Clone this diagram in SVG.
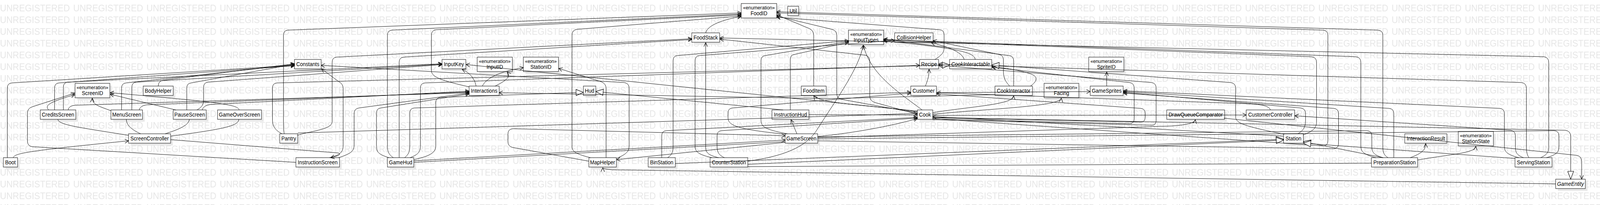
<svg xmlns="http://www.w3.org/2000/svg" width="4369" height="524" viewBox="0 0 4369 524">
<style>
.wm{font-family:"Liberation Sans",Arial,sans-serif;font-size:24px;fill:#e6e6e6}
.sh{fill:#e8e8e8}
.bx{fill:#fff;stroke:#3a3a3a;stroke-width:1.3}
.t{font-family:"Liberation Sans",Arial,sans-serif;font-size:14px;fill:#000;text-anchor:middle}
.s{font-family:"Liberation Sans",Arial,sans-serif;font-size:13px;fill:#000;text-anchor:middle}
.i{font-style:italic}
.e{fill:none;stroke:#000;stroke-width:1}
.a{marker-end:url(#arr)}
.g{marker-end:url(#tri)}
</style>
<defs>
<pattern id="wmp" patternUnits="userSpaceOnUse" x="0" y="0" width="200" height="30"><text class="wm" x="0" y="29">UNREGISTERED</text></pattern>
<marker id="arr" viewBox="0 0 12 12" refX="11" refY="6" markerWidth="12" markerHeight="12" orient="auto" markerUnits="userSpaceOnUse"><path d="M1,1 L11,6 L1,11" fill="none" stroke="#000" stroke-width="1.2"/></marker>
<marker id="tri" viewBox="0 0 22 18" refX="21" refY="9" markerWidth="22" markerHeight="18" orient="auto" markerUnits="userSpaceOnUse"><path d="M1,1 L21,9 L1,17 Z" fill="#fff" stroke="#000" stroke-width="1.2"/></marker>
</defs>
<rect width="4369" height="524" fill="#fff"/>
<g id="diagram" transform="matrix(0.9375 0 0 1 0 0)">
<rect width="4369" height="524" fill="url(#wmp)"/>
<g id="nodes">
<g id="Boot"><rect class="sh" x="15" y="409" width="39" height="24"/><rect class="bx" x="9" y="403" width="39" height="24"/><text class="t" x="28.5" y="420">Boot</text></g>
<g id="ScreenID"><rect class="sh" x="211" y="219" width="95" height="37"/><rect class="bx" x="205" y="213" width="95" height="37"/><text class="s" x="252.5" y="228.5">«enumeration»</text><text class="t" x="252.5" y="243">ScreenID</text></g>
<g id="BodyHelper"><rect class="sh" x="397" y="226" width="82" height="24"/><rect class="bx" x="391" y="220" width="82" height="24"/><text class="t" x="432" y="237">BodyHelper</text></g>
<g id="CreditsScreen"><rect class="sh" x="116" y="287" width="97" height="24"/><rect class="bx" x="110" y="281" width="97" height="24"/><text class="t" x="158.5" y="298">CreditsScreen</text></g>
<g id="MenuScreen"><rect class="sh" x="309" y="287" width="86" height="24"/><rect class="bx" x="303" y="281" width="86" height="24"/><text class="t" x="346" y="298">MenuScreen</text></g>
<g id="PauseScreen"><rect class="sh" x="479" y="287" width="90" height="24"/><rect class="bx" x="473" y="281" width="90" height="24"/><text class="t" x="518" y="298">PauseScreen</text></g>
<g id="GameOverScreen"><rect class="sh" x="600" y="287" width="120" height="24"/><rect class="bx" x="594" y="281" width="120" height="24"/><text class="t" x="654" y="298">GameOverScreen</text></g>
<g id="ScreenController"><rect class="sh" x="357" y="348" width="115" height="24"/><rect class="bx" x="351" y="342" width="115" height="24"/><text class="t" x="408.5" y="359">ScreenController</text></g>
<g id="Constants"><rect class="sh" x="810" y="158" width="73" height="24"/><rect class="bx" x="804" y="152" width="73" height="24"/><text class="t" x="840.5" y="169">Constants</text></g>
<g id="Pantry"><rect class="sh" x="770" y="348" width="49" height="24"/><rect class="bx" x="764" y="342" width="49" height="24"/><text class="t" x="788.5" y="359">Pantry</text></g>
<g id="InstructionScreen"><rect class="sh" x="814" y="409" width="119" height="24"/><rect class="bx" x="808" y="403" width="119" height="24"/><text class="t" x="867.5" y="420">InstructionScreen</text></g>
<g id="GameHud"><rect class="sh" x="1064" y="409" width="72" height="24"/><rect class="bx" x="1058" y="403" width="72" height="24"/><text class="t" x="1094" y="420">GameHud</text></g>
<g id="InputKey"><rect class="sh" x="1213" y="158" width="65" height="24"/><rect class="bx" x="1207" y="152" width="65" height="24"/><text class="t" x="1239.5" y="169">InputKey</text></g>
<g id="InputID"><rect class="sh" x="1309" y="152" width="96" height="37"/><rect class="bx" x="1303" y="146" width="96" height="37"/><text class="s" x="1351" y="161.5">«enumeration»</text><text class="t" x="1351" y="176">InputID</text></g>
<g id="StationID"><rect class="sh" x="1435" y="152" width="96" height="37"/><rect class="bx" x="1429" y="146" width="96" height="37"/><text class="s" x="1477" y="161.5">«enumeration»</text><text class="t" x="1477" y="176">StationID</text></g>
<g id="Interactions"><rect class="sh" x="1287" y="226" width="82" height="24"/><rect class="bx" x="1281" y="220" width="82" height="24"/><text class="t" x="1322" y="237">Interactions</text></g>
<g id="Hud"><rect class="sh" x="1599" y="226" width="34" height="24"/><rect class="bx" x="1593" y="220" width="34" height="24"/><text class="t" x="1610" y="237">Hud</text></g>
<g id="MapHelper"><rect class="sh" x="1614" y="409" width="75" height="24"/><rect class="bx" x="1608" y="403" width="75" height="24"/><text class="t" x="1645.5" y="420">MapHelper</text></g>
<g id="BinStation"><rect class="sh" x="1776" y="409" width="74" height="24"/><rect class="bx" x="1770" y="403" width="74" height="24"/><text class="t" x="1807" y="420">BinStation</text></g>
<g id="CounterStation"><rect class="sh" x="1945" y="409" width="103" height="24"/><rect class="bx" x="1939" y="403" width="103" height="24"/><text class="t" x="1990.5" y="420">CounterStation</text></g>
<g id="FoodStack"><rect class="sh" x="1895" y="90" width="76" height="24"/><rect class="bx" x="1889" y="84" width="76" height="24"/><text class="t" x="1927" y="101">FoodStack</text></g>
<g id="FoodID"><rect class="sh" x="2030" y="15" width="97" height="37"/><rect class="bx" x="2024" y="9" width="97" height="37"/><text class="s" x="2072.5" y="24.5">«enumeration»</text><text class="t" x="2072.5" y="39">FoodID</text></g>
<g id="Util"><rect class="sh" x="2157" y="22" width="30" height="24"/><rect class="bx" x="2151" y="16" width="30" height="24"/><text class="t" x="2166" y="33">Util</text></g>
<g id="InstructionHud"><rect class="sh" x="2114" y="287" width="101" height="24"/><rect class="bx" x="2108" y="281" width="101" height="24"/><text class="t" x="2158.5" y="298">InstructionHud</text></g>
<g id="GameScreen"><rect class="sh" x="2150" y="348" width="89" height="24"/><rect class="bx" x="2144" y="342" width="89" height="24"/><text class="t" x="2188.5" y="359">GameScreen</text></g>
<g id="FoodItem"><rect class="sh" x="2194" y="226" width="68" height="24"/><rect class="bx" x="2188" y="220" width="68" height="24"/><text class="t" x="2222" y="237">FoodItem</text></g>
<g id="InputTypes"><rect class="sh" x="2323" y="83" width="96" height="37"/><rect class="bx" x="2317" y="77" width="96" height="37"/><text class="s" x="2365" y="92.5">«enumeration»</text><text class="t" x="2365" y="107">InputTypes</text></g>
<g id="CollisionHelper"><rect class="sh" x="2449" y="90" width="105" height="24"/><rect class="bx" x="2443" y="84" width="105" height="24"/><text class="t" x="2495.5" y="101">CollisionHelper</text></g>
<g id="Recipe"><rect class="sh" x="2517" y="158" width="52" height="24"/><rect class="bx" x="2511" y="152" width="52" height="24"/><text class="t" x="2537" y="169">Recipe</text></g>
<g id="CookInteractable"><rect class="sh" x="2599" y="158" width="115" height="24"/><rect class="bx" x="2593" y="152" width="115" height="24"/><text class="t i" x="2650.5" y="169">CookInteractable</text></g>
<g id="Customer"><rect class="sh" x="2493" y="226" width="70" height="24"/><rect class="bx" x="2487" y="220" width="70" height="24"/><text class="t" x="2522" y="237">Customer</text></g>
<g id="Cook"><rect class="sh" x="2511" y="287" width="42" height="24"/><rect class="bx" x="2505" y="281" width="42" height="24"/><text class="t" x="2526" y="298">Cook</text></g>
<g id="CookInteractor"><rect class="sh" x="2723" y="226" width="102" height="24"/><rect class="bx" x="2717" y="220" width="102" height="24"/><text class="t" x="2768" y="237">CookInteractor</text></g>
<g id="Facing"><rect class="sh" x="2857" y="219" width="95" height="37"/><rect class="bx" x="2851" y="213" width="95" height="37"/><text class="s" x="2898.5" y="228.5">«enumeration»</text><text class="t" x="2898.5" y="243">Facing</text></g>
<g id="SpriteID"><rect class="sh" x="2979" y="152" width="96" height="37"/><rect class="bx" x="2973" y="146" width="96" height="37"/><text class="s" x="3021" y="161.5">«enumeration»</text><text class="t" x="3021" y="176">SpriteID</text></g>
<g id="GameSprites"><rect class="sh" x="2983" y="226" width="90" height="24"/><rect class="bx" x="2977" y="220" width="90" height="24"/><text class="t" x="3022" y="237">GameSprites</text></g>
<g id="DrawQueueComparator"><rect class="sh" x="3192" y="287" width="158" height="24"/><rect class="bx" x="3186" y="281" width="158" height="24"/><text class="t" x="3265" y="298">DrawQueueComparator</text></g>
<g id="CustomerController"><rect class="sh" x="3409" y="287" width="132" height="24"/><rect class="bx" x="3403" y="281" width="132" height="24"/><text class="t" x="3469" y="298">CustomerController</text></g>
<g id="Station"><rect class="sh" x="3511" y="348" width="54" height="24"/><rect class="bx" x="3505" y="342" width="54" height="24"/><text class="t" x="3532" y="359">Station</text></g>
<g id="InteractionResult"><rect class="sh" x="3842" y="348" width="115" height="24"/><rect class="bx" x="3836" y="342" width="115" height="24"/><text class="t" x="3893.5" y="359">InteractionResult</text></g>
<g id="StationState"><rect class="sh" x="3988" y="342" width="96" height="37"/><rect class="bx" x="3982" y="336" width="96" height="37"/><text class="s" x="4030" y="351.5">«enumeration»</text><text class="t" x="4030" y="366">StationState</text></g>
<g id="PreparationStation"><rect class="sh" x="3751" y="409" width="126" height="24"/><rect class="bx" x="3745" y="403" width="126" height="24"/><text class="t" x="3808" y="420">PreparationStation</text></g>
<g id="ServingStation"><rect class="sh" x="4143" y="409" width="101" height="24"/><rect class="bx" x="4137" y="403" width="101" height="24"/><text class="t" x="4187.5" y="420">ServingStation</text></g>
<g id="GameEntity"><rect class="sh" x="4254" y="464" width="81" height="24"/><rect class="bx" x="4248" y="458" width="81" height="24"/><text class="t i" x="4288.5" y="475">GameEntity</text></g>
</g>
<g id="connectors" class="e">
<path class="a" d="M20 403 V225 Q20 213 32 212 L804 167"/>
<path class="a" d="M36 403 C40 392 70 386 351 360"/>
<path class="a" d="M133 281 C122 270 130 262 204 242"/>
<path class="a" d="M808 415 L88 375 Q75 373 75 361 V289 Q75 277 88 273 L204 238"/>
<path class="a" d="M303 283 C272 272 252 268 252 251"/>
<path class="a" d="M480 281 L301 241"/>
<path class="a" d="M653 281 C650 268 610 262 301 237"/>
<path d="M158 305 C160 320 220 326 351 346"/>
<path d="M345 305 C345 322 365 334 384 342"/>
<path d="M517 305 C516 322 480 333 451 342"/>
<path d="M652 305 C652 322 610 330 466 348"/>
<path class="a" d="M466 357 L924 391 Q937 396 903 403"/>
<path class="a" d="M149 281 V225 Q149 213 161 212 L804 168"/>
<path class="a" d="M173 281 V223 Q173 211 185 210 L1207 163"/>
<path class="a" d="M186 281 Q188 270 205 269 L1281 237"/>
<path class="a" d="M332 281 V225 Q332 213 344 212 L804 165"/>
<path class="a" d="M360 281 V223 Q360 211 372 210 L1207 164"/>
<path class="a" d="M380 281 Q383 270 400 268 L1281 235"/>
<path class="a" d="M432 220 Q432 207 446 205 L804 163"/>
<path class="a" d="M510 281 V225 Q510 213 522 212 L804 164"/>
<path class="a" d="M538 281 Q556 272 556 258 V223 Q556 211 568 210 L1207 165"/>
<path class="a" d="M552 281 Q556 269 575 267 L1281 233"/>
<path class="a" d="M776 342 Q774 330 774 318 V90 Q774 78 786 77 L2024 33"/>
<path class="g" d="M770 342 C750 332 744 322 744 305 V225 Q744 213 756 212 L2593 166"/>
<path class="a" d="M812 346 C840 336 906 332 907 312 V159 Q907 147 919 146 L1889 99"/>
<path class="a" d="M813 340 L2505 290"/>
<path class="a" d="M900 403 C930 396 937 388 937 372 V226 Q937 214 924 208 L878 176"/>
<path class="a" d="M925 403 C960 392 967 386 967 370 V290 Q967 278 980 276 L1281 238"/>
<path class="a" d="M1074 403 C1060 394 1058 386 1058 372 V90 Q1058 78 1070 77 L2024 36"/>
<path class="a" d="M1090 403 V159 Q1090 147 1102 146 L1889 101"/>
<path class="a" d="M1062 403 C1030 394 1028 386 1028 372 V289 Q1028 277 1040 276 L1281 240"/>
<path class="a" d="M1105 403 C1117 394 1119 386 1119 372 V289 Q1119 277 1131 276 L2487 236"/>
<path class="a" d="M1120 403 C1145 394 1148 386 1148 372 V225 Q1148 213 1160 212 L2511 167"/>
<path class="g" d="M1130 408 C1180 398 1190 388 1190 372 V262 Q1190 250 1203 249 L1593 236"/>
<path class="a" d="M1130 411 L2144 358"/>
<path d="M1130 415 L2144 362"/>
<path class="a" d="M1608 412 L1400 377 Q1387 374 1387 362 V343 Q1387 330 1400 329 L2144 347"/>
<path class="a" d="M1612 403 C1566 392 1562 386 1562 372 V90 Q1562 77 1575 75 L2024 41"/>
<path class="a" d="M1655 403 V226 Q1655 214 1642 209 L1526 175"/>
<path class="a" d="M1683 405 C1712 394 1718 386 1718 372 V226 Q1718 213 1705 211 L877 167"/>
<path class="a" d="M4248 470 L1672 434 Q1646 432 1646 429"/>
<path class="a" d="M2144 364 L1684 408"/>
<path class="g" d="M1844 418 L3505 356"/>
<path class="g" d="M2042 420 L3505 358"/>
<path class="a" d="M1807 403 V347 Q1807 335 1819 334 L2505 300"/>
<path class="a" d="M1823 403 C1835 396 1838 388 1838 374 V155 Q1838 143 1850 142 L2317 104"/>
<path class="a" d="M1944 403 C1902 394 1898 386 1898 372 V155 Q1898 143 1910 142 L2443 103"/>
<path class="a" d="M1962 403 C1930 396 1927 388 1927 374 V109"/>
<path class="a" d="M1978 403 C1962 396 1958 388 1958 374 V347 Q1958 335 1970 334 L2505 302"/>
<path class="a" d="M2042 412 C2150 398 2205 372 2232 330 C2290 245 2345 175 2357 116"/>
<path class="a" d="M1927 84 C1932 64 1975 50 2024 42"/>
<path class="a" d="M2146 343 C2000 330 1988 318 1988 300 V289 Q1988 277 2000 276 L2487 238"/>
<path class="a" d="M2150 342 C2082 330 2078 322 2078 305 V155 Q2078 143 2090 142 L2317 106"/>
<path class="a" d="M2158 281 V152 Q2158 140 2170 139 L2317 108"/>
<path class="a" d="M2176 342 L2160 306"/>
<path class="g" d="M2138 281 L1627 234"/>
<path class="a" d="M2222 220 V91 Q2222 78 2210 73 L2121 38"/>
<path class="a" d="M2518 281 C2460 240 2375 190 2358 116"/>
<path class="a" d="M2505 289 L2298 254 Q2285 252 2285 239 V91 Q2285 78 2272 75 L2121 41"/>
<path class="a" d="M2505 292 L2389 262 Q2375 258 2375 245 V156 Q2375 143 2362 141 L1966 100"/>
<path class="a" d="M2547 288 C2650 272 2766 268 2768 245"/>
<path class="a" d="M2547 292 C2700 278 2896 272 2898 251"/>
<path class="a" d="M2557 237 L2977 234"/>
<path class="a" d="M2527 220 C2533 205 2537 195 2537 177"/>
<path class="a" d="M2553 152 C2570 142 2578 135 2578 122 V89 Q2578 77 2566 76 L2121 44"/>
<path class="a" d="M2633 152 C2625 130 2580 118 2543 109"/>
<path class="a" d="M2663 152 C2660 135 2630 125 2413 104"/>
<path class="a" d="M2757 220 C2742 205 2740 195 2740 180 V153 Q2740 141 2727 139 L2548 104"/>
<path class="a" d="M2768 220 V156 Q2768 143 2755 142 L2413 100"/>
<path class="a" d="M2814 220 C2832 208 2836 196 2815 189 C2780 178 2740 174 2709 170"/>
<path class="a" d="M2717 242 L2260 252 L1363 237"/>
<path class="a" d="M3469 281 C3466 270 3440 266 3400 265 L2558 237"/>
<path class="a" d="M2547 295 L3403 294"/>
<path class="a" d="M2233 352 L3200 322 Q3262 318 3264 306"/>
<path class="a" d="M3022 220 V184"/>
<path class="g" d="M3507 343 C3380 320 3374 312 3374 296 V225 Q3374 213 3361 211 L2708 166"/>
<path class="a" d="M3544 342 C3562 332 3565 322 3565 306 V290 Q3565 278 3552 276 L3068 236"/>
<path class="a" d="M3558 345 C3590 334 3595 325 3595 310 V159 Q3595 147 3582 145 L2413 102"/>
<path class="a" d="M3505 348 L2547 298"/>
<path class="a" d="M2547 303 L3612 373 Q3626 373 3626 360 V90 Q3626 78 3613 77 L2121 33"/>
<path class="a" d="M2233 360 L3641 380 Q3655 380 3655 367 V291 Q3655 278 3642 277 L3068 238"/>
<path class="a" d="M2547 301 L3115 312 Q3127 312 3127 300 V290 Q3127 278 3115 277 L2558 240"/>
<path class="a" d="M2547 304 L3085 316 Q3097 316 3097 304 V225 Q3097 213 3085 211 L2709 172"/>
<path class="a" d="M2547 306 L3145 320 Q3157 320 3157 308 V225 Q3157 213 3145 211 L2563 167"/>
<path class="g" d="M2547 300 L4275 333 Q4289 335 4289 349 V458"/>
<path class="a" d="M3342 302 L4305 397 Q4319 399 4319 413 V458"/>
<path class="g" d="M3777 403 L3559 362"/>
<path class="g" d="M4137 405 L3559 366"/>
<path class="a" d="M3851 403 C3882 392 3893 384 3893 367"/>
<path class="a" d="M3871 409 C3960 394 4028 392 4030 374"/>
<path class="a" d="M3757 403 C3720 394 3716 386 3716 372 V159 Q3716 147 3703 145 L2413 101"/>
<path d="M3776 403 C3750 396 3746 388 3746 374 V347 Q3746 335 3733 334 L2233 350"/>
<path class="a" d="M3790 403 C3778 396 3776 388 3776 374 V90 Q3776 78 3763 77 L2121 30"/>
<path class="a" d="M3806 403 V290 Q3806 278 3793 277 L3068 234"/>
<path d="M2042 426 L3745 417"/>
<path class="a" d="M4147 403 C4111 394 4108 386 4108 372 V290 Q4108 278 4095 277 L3068 232"/>
<path class="a" d="M4160 403 C4140 396 4138 388 4138 374 V347 Q4138 335 4125 333 L3536 296"/>
<path class="a" d="M4175 403 C4170 396 4168 388 4168 374 V225 Q4168 213 4155 211 L2563 164"/>
<path class="a" d="M4207 403 C4226 395 4229 388 4229 374 V159 Q4229 147 4216 145 L1966 97"/>
<path d="M4223 403 C4252 395 4257 388 4257 374 V347 Q4257 335 4244 334 L2233 355"/>
<path class="a" d="M1281 222 C1200 205 1178 196 1178 180 V90 Q1178 78 1190 76 L2024 38"/>
<path class="a" d="M1300 220 C1296 200 1282 186 1262 177"/>
<path class="a" d="M1352 220 C1385 205 1395 195 1385 184"/>
<path class="a" d="M1317 220 C1330 195 1380 180 1429 173"/>
<path class="a" d="M2505 284 L1273 165"/>
<path class="a" d="M2505 286 C2400 270 2240 266 2222 245"/>
<path class="a" d="M2209 293 L2505 294"/>
<path class="a" d="M2233 349 C2350 338 2450 318 2505 303"/>
</g>
</g>
</svg>
